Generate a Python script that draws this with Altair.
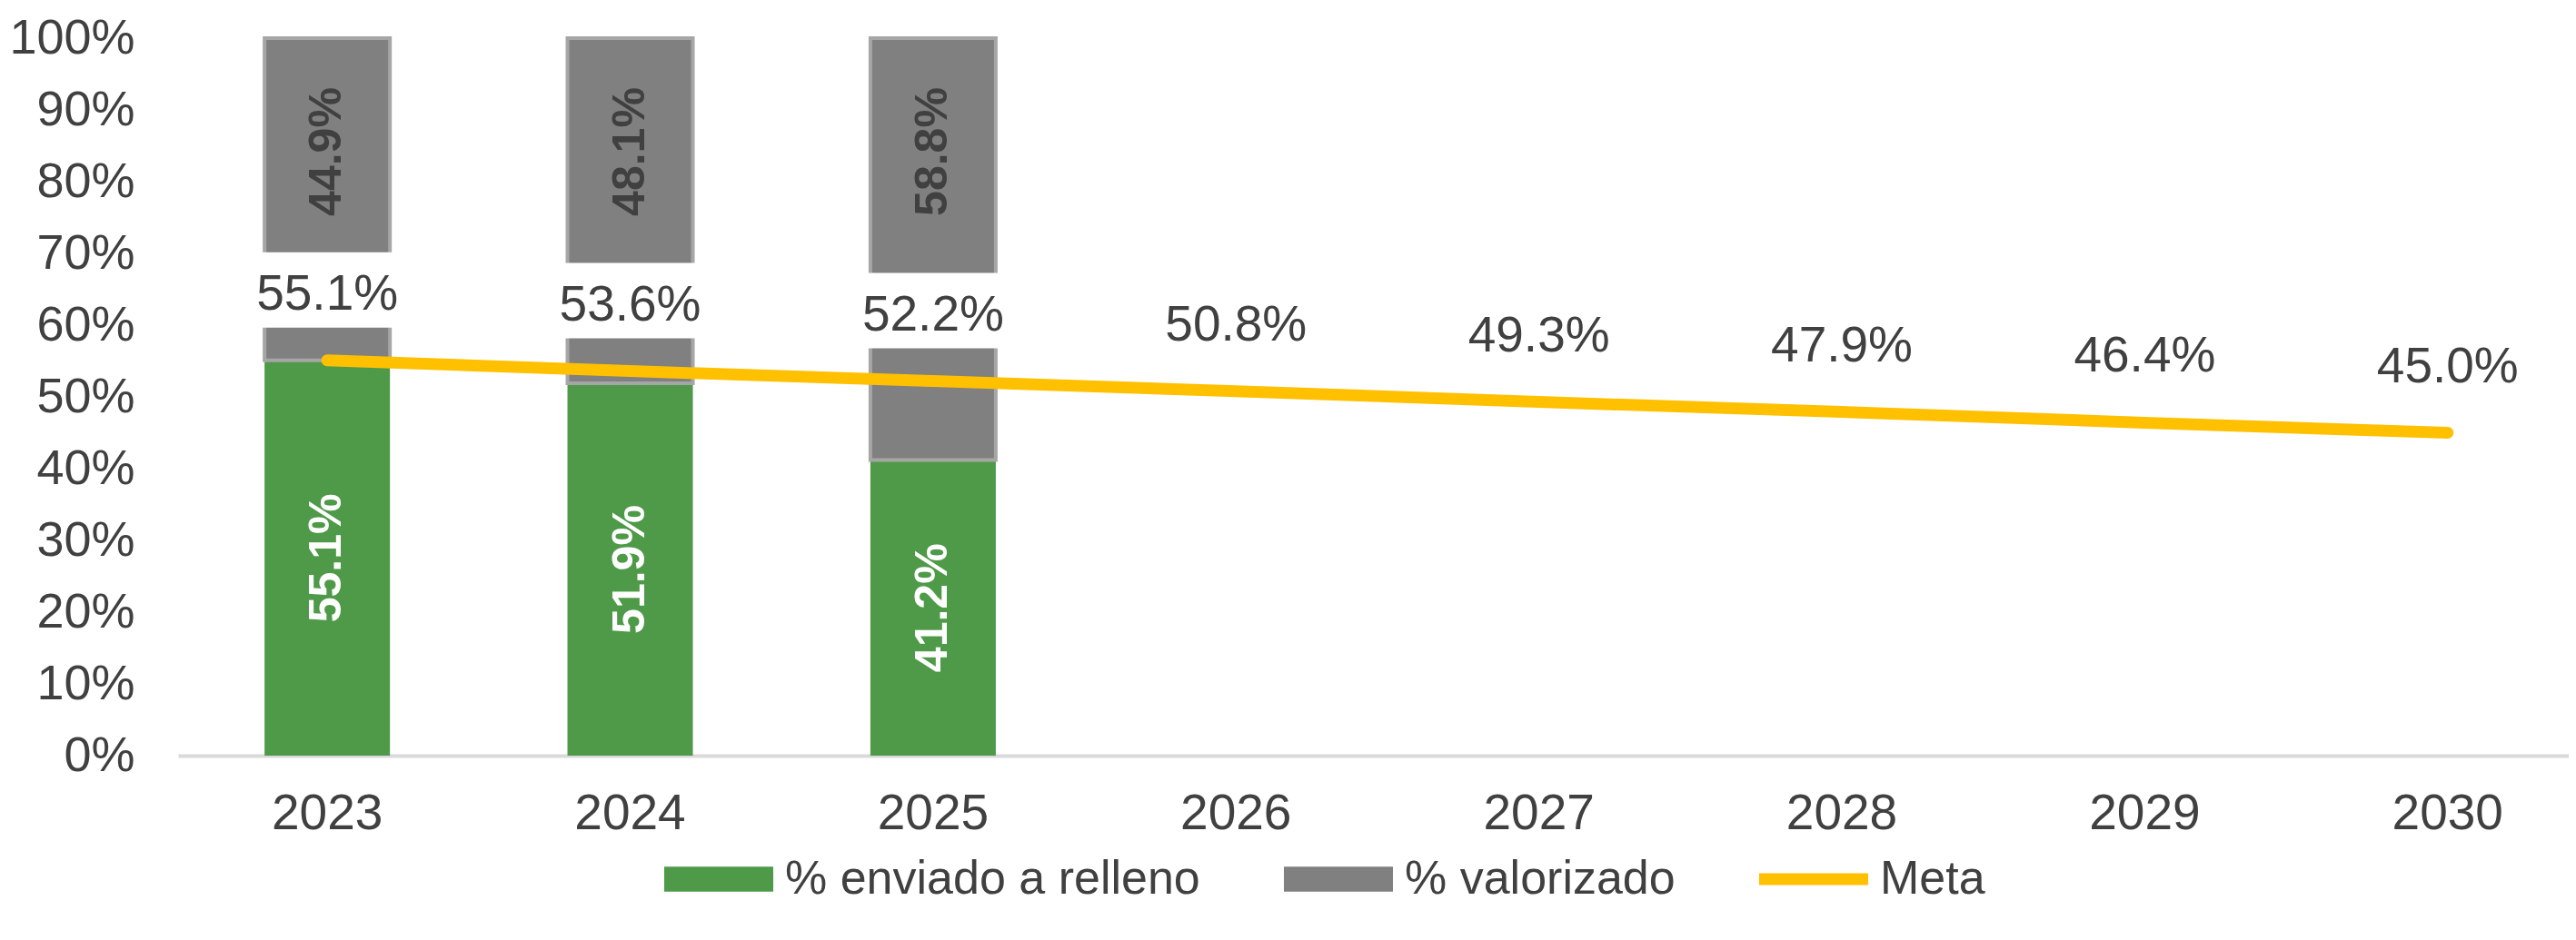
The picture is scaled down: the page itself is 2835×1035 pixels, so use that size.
import altair as alt
import pandas as pd

# ---------------- data ----------------
years = ["2023", "2024", "2025", "2026", "2027", "2028", "2029", "2030"]
bar_years = ["2023", "2024", "2025"]
relleno = [55.1, 51.9, 41.2]
valorizado = [44.9, 48.1, 58.8]
meta = [55.1, 53.6, 52.2, 50.8, 49.3, 47.9, 46.4, 45.0]
series = ["% enviado a relleno", "% valorizado", "Meta"]
colors = ["#4E9A48", "#808080", "#FFC000"]
y_ticks = [0, 10, 20, 30, 40, 50, 60, 70, 80, 90, 100]

bars = pd.DataFrame({"year": bar_years, "relleno": relleno, "valorizado": valorizado})
metadf = pd.DataFrame({"year": years, "meta": meta})
legend_df = pd.DataFrame({"year": bar_years, "serie": series, "v": [0, 0, 0]})

FONT = "Liberation Sans"
TXT = "#404040"

RECT = "M-1,-0.23H1V0.23H-1Z"
THIN = "M-1,-0.11H1V0.11H-1Z"

LEG = alt.Legend(
    title=None, orient="none", legendX=535, legendY=866, direction="horizontal",
    labelFontSize=52, labelFont=FONT, labelColor=TXT, labelLimit=2000, symbolSize=14400,
    symbolStrokeWidth=0, columnPadding=92, labelOffset=13, symbolOpacity=1,
)
color_enc = alt.Color("serie:N", scale=alt.Scale(domain=series, range=colors), legend=LEG)

x_enc = alt.X(
    "year:N", sort=years,
    scale=alt.Scale(domain=years, paddingInner=0.586, paddingOuter=0.239, align=0.597),
    axis=alt.Axis(title=None, labelAngle=0, labelFontSize=55, labelFont=FONT, labelColor=TXT,
                  labelPadding=37, ticks=False, domainColor="#D9D9D9", domainWidth=4),
)


def y_enc(field):
    return alt.Y(
        field, scale=alt.Scale(domain=[0, 100], nice=False),
        axis=alt.Axis(values=y_ticks, labelExpr="datum.value + '%'", title=None, grid=False,
                      domain=False, ticks=False, labelFontSize=54, labelFont=FONT,
                      labelColor=TXT, labelPadding=48),
    )


base_bars = alt.Chart(bars).transform_calculate(
    total="datum.relleno + datum.valorizado",
    mid="datum.relleno / 2",
)

green = base_bars.transform_calculate(serie="'% enviado a relleno'").mark_bar().encode(
    x=x_enc, y=y_enc("relleno:Q"), color=color_enc
)

gray = base_bars.transform_calculate(serie="'% valorizado'").mark_bar(
    stroke="#A6A6A6", strokeWidth=4
).encode(x=x_enc, y=y_enc("relleno:Q"), y2="total:Q", color=color_enc)

boxes = alt.Chart(metadf).mark_bar(color="white", width=160, yOffset=-119, y2Offset=-36).encode(
    x=x_enc, y=y_enc("meta:Q"), y2="meta:Q"
)

line = alt.Chart(metadf).transform_calculate(serie="'Meta'").mark_line(
    strokeWidth=13, strokeCap="round"
).encode(x=x_enc, y=y_enc("meta:Q"), color=color_enc)

meta_labels = alt.Chart(metadf).transform_calculate(
    lab="format(datum.meta, '.1f') + '%'"
).mark_text(fontSize=55, font=FONT, color=TXT, yOffset=-73).encode(
    x=x_enc, y=y_enc("meta:Q"), text="lab:N"
)

green_labels = base_bars.transform_calculate(
    lab="format(datum.relleno, '.1f') + '%'"
).mark_text(angle=270, fontSize=50, font=FONT, fontWeight="bold", color="white").encode(
    x=x_enc, y=y_enc("mid:Q"), text="lab:N"
)

gray_labels = base_bars.transform_calculate(
    lab="format(datum.valorizado, '.1f') + '%'"
).mark_text(angle=270, fontSize=50, font=FONT, fontWeight="bold", color=TXT, yOffset=125).encode(
    x=x_enc, y=y_enc("total:Q"), text="lab:N"
)

legend_pts = alt.Chart(legend_df).mark_point(filled=True, size=0).encode(
    x=x_enc, y=y_enc("v:Q"), color=color_enc,
    shape=alt.Shape("serie:N", scale=alt.Scale(domain=series, range=[RECT, RECT, THIN]), legend=LEG),
)

chart = alt.layer(
    green, gray, boxes, line, meta_labels, green_labels, gray_labels, legend_pts
).properties(
    width=2631, height=790,
    padding={"left": 188, "top": 34, "right": 0, "bottom": 195},
    autosize=alt.AutoSizeParams(type="none"),
).configure(font=FONT).configure_view(strokeWidth=0, stroke="transparent")

chart.save("out.html", embed_options={"renderer": "svg", "actions": False})
